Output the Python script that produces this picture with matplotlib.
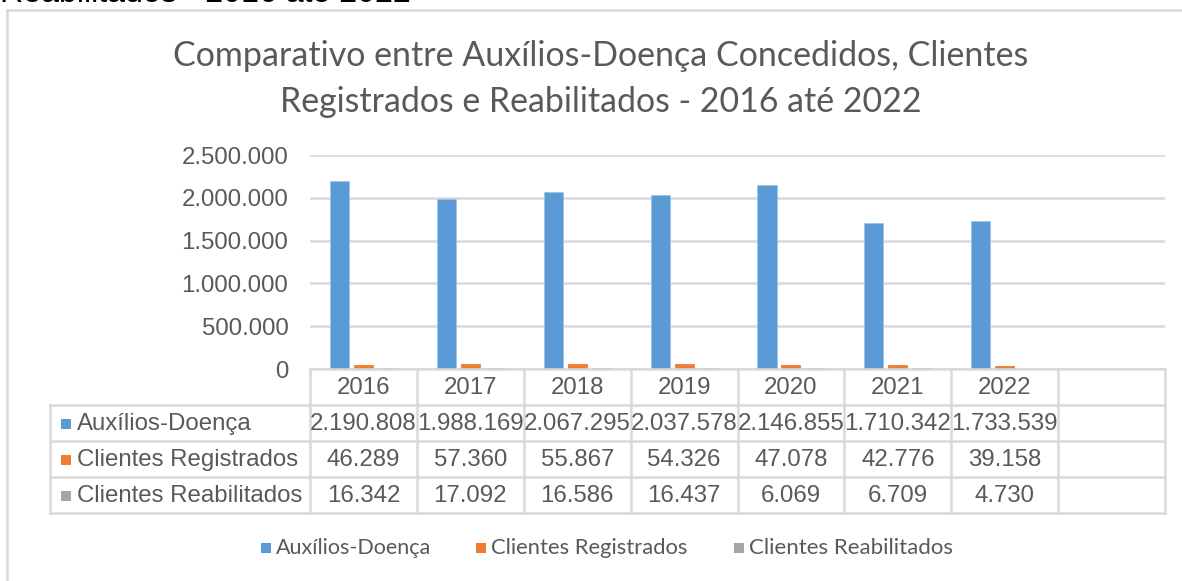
import matplotlib
matplotlib.use("Agg")
import matplotlib.pyplot as plt
from matplotlib.patches import Rectangle
from matplotlib.lines import Line2D
import numpy as np

# ---------------- data ----------------
years = ["2016", "2017", "2018", "2019", "2020", "2021", "2022"]
series_names = ["Auxílios-Doença", "Clientes Registrados", "Clientes Reabilitados"]
auxilios = [2190808, 1988169, 2067295, 2037578, 2146855, 1710342, 1733539]
registrados = [46289, 57360, 55867, 54326, 47078, 42776, 39158]
reabilitados = [16342, 17092, 16586, 16437, 6069, 6709, 4730]
yticks = [0, 500000, 1000000, 1500000, 2000000, 2500000]
title_lines = ["Comparativo entre Auxílios-Doença Concedidos, Clientes",
               "Registrados e Reabilitados - 2016 até 2022"]
top_cut_text = "Reabilitados - 2016 até 2022"

colors = ["#5B9BD5", "#ED7D31", "#A5A5A5"]
TXT = "#595959"
GRID = "#D9D9D9"

W, H = 1182, 581
DPI = 100
fig = plt.figure(figsize=(W / DPI, H / DPI), dpi=DPI)
fig.patch.set_facecolor("white")

def fx(x):
    return x / W

def fy(y):
    return 1 - y / H

def fmt(v):
    return f"{v:,}".replace(",", ".")

renderer = fig.canvas.get_renderer()

def fit_text(t, target_w):
    bb = t.get_window_extent(renderer=renderer)
    t.set_fontsize(t.get_fontsize() * target_w / bb.width)

FS = 17.3

# chart border (left and top visible)
fig.add_artist(Line2D([fx(7), fx(7)], [fy(10), fy(H + 5)], transform=fig.transFigure,
                      color=GRID, lw=1.8))
fig.add_artist(Line2D([fx(7), fx(W + 5)], [fy(10), fy(10)], transform=fig.transFigure,
                      color=GRID, lw=1.8))

# cut-off text at very top
tc = fig.text(fx(0), fy(2), top_cut_text, fontsize=23, family="Liberation Sans",
              color="black", ha="left", va="baseline")
fit_text(tc, 412)

# title
t1 = fig.text(fx(601), fy(66), title_lines[0], fontsize=22, family="Lato",
              color=TXT, ha="center", va="baseline")
t2 = fig.text(fx(601), fy(112), title_lines[1], fontsize=22, family="Lato",
              color=TXT, ha="center", va="baseline")
fit_text(t1, 853)
fit_text(t2, 638)

# axes
x0, x1, ytop, ybot = 310, 1165, 155, 369
ax = fig.add_axes([fx(x0), fy(ybot), (x1 - x0) / W, (ybot - ytop) / H])
ncat = len(years) + 1
ax.set_xlim(0, ncat)
ax.set_ylim(0, 2500000)
idx = np.arange(len(years)) + 0.5
bw = 0.178
offs = [-0.224, 0.0, 0.224]
for s, (vals, c) in enumerate(zip([auxilios, registrados, reabilitados], colors)):
    ax.bar(idx + offs[s], vals, width=bw, color=c, edgecolor="#9DC3E6" if s == 0 else c,
           linewidth=0.6, zorder=3)
ax.set_yticks(yticks)
ax.set_yticklabels([fmt(v) for v in yticks], fontsize=FS, family="Liberation Sans",
                   color=TXT)
ax.tick_params(axis="y", length=0, pad=15.5)
ax.set_xticks([])
ax.grid(axis="y", color=GRID, lw=1.8, zorder=0)
for sp in ax.spines.values():
    sp.set_visible(False)

# data table
rows_y = [369, 405, 441, 477, 513]
col_x = [x0 + (x1 - x0) * i / ncat for i in range(ncat + 1)]
lab_x0 = 50
lk = dict(transform=fig.transFigure, color=GRID, lw=1.8)
fig.add_artist(Line2D([fx(x0), fx(x1)], [fy(rows_y[0])] * 2, **lk))
for ry in rows_y[1:]:
    fig.add_artist(Line2D([fx(lab_x0), fx(x1)], [fy(ry)] * 2, **lk))
fig.add_artist(Line2D([fx(lab_x0)] * 2, [fy(rows_y[1]), fy(rows_y[-1])], **lk))
for cx in col_x:
    fig.add_artist(Line2D([fx(cx)] * 2, [fy(rows_y[0]), fy(rows_y[-1])], **lk))

tk = dict(fontsize=FS, family="Liberation Sans", color=TXT, ha="center", va="center")
for i, yr in enumerate(years):
    cx = (col_x[i] + col_x[i + 1]) / 2
    fig.text(fx(cx), fy((rows_y[0] + rows_y[1]) / 2 + 1), yr, **tk)
for r, (name, vals, c) in enumerate(zip(series_names,
                                        [auxilios, registrados, reabilitados], colors)):
    cy = (rows_y[r + 1] + rows_y[r + 2]) / 2 + 1
    fig.add_artist(Rectangle((fx(61), fy(cy + 5)), 10 / W, 10 / H,
                             transform=fig.transFigure, color=c, lw=0))
    fig.text(fx(77), fy(cy), name, fontsize=FS, family="Liberation Sans", color=TXT,
             ha="left", va="center")
    for i, v in enumerate(vals):
        cx = (col_x[i] + col_x[i + 1]) / 2
        fig.text(fx(cx), fy(cy), fmt(v), **tk)

# legend
leg_sq_x = [261, 476, 734]
leg_txt_w = [155, 196, 204]
ly = 548
for name, c, sx, tw in zip(series_names, colors, leg_sq_x, leg_txt_w):
    fig.add_artist(Rectangle((fx(sx), fy(ly + 5)), 10 / W, 10 / H,
                             transform=fig.transFigure, color=c, lw=0))
    t = fig.text(fx(sx + 15), fy(ly), name, fontsize=13, family="Lato", color=TXT,
                 ha="left", va="center")
    fit_text(t, tw)

fig.savefig("out.png", dpi=DPI, facecolor="white")
